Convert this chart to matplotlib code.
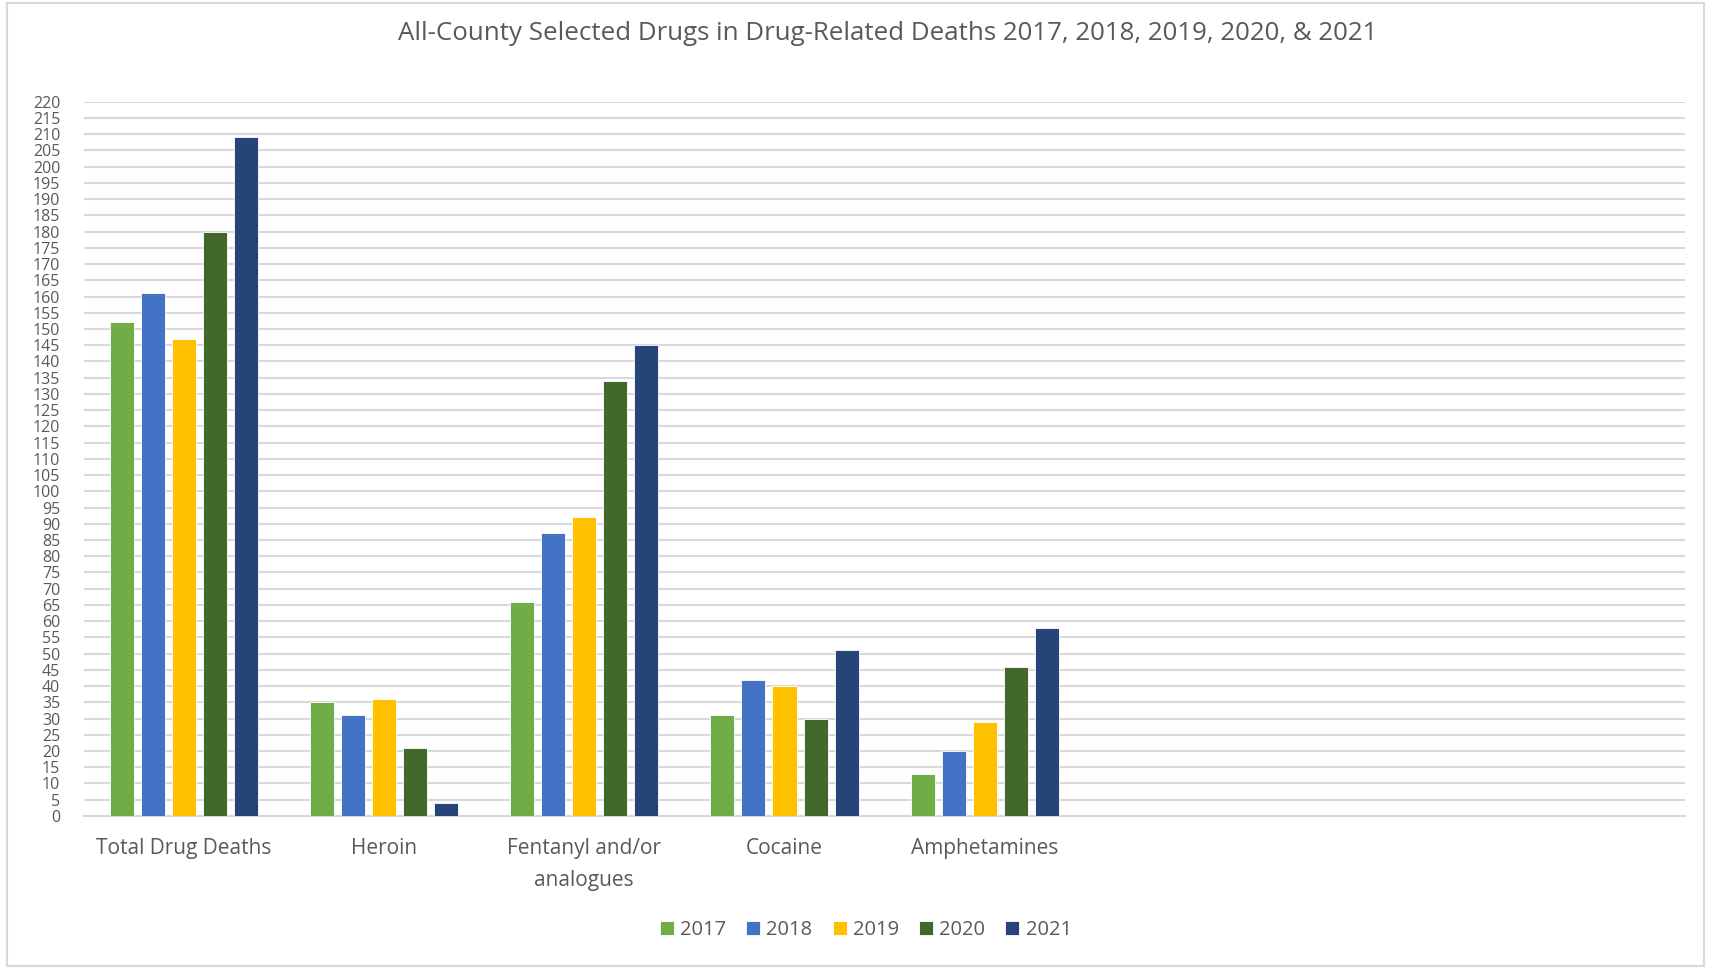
import matplotlib.pyplot as plt
import numpy as np
from matplotlib.patches import Rectangle

categorias = ["Total Drug Deaths", "Heroin", "Fentanyl and/or\nanalogues", "Cocaine", "Amphetamines", "", "", ""]
anios = ["2017", "2018", "2019", "2020", "2021"]
v2017 = [152, 35, 66, 31, 13]
v2018 = [161, 31, 87, 42, 20]
v2019 = [147, 36, 92, 40, 29]
v2020 = [180, 21, 134, 30, 46]
v2021 = [209, 4, 145, 51, 58]
colores = ['#70AD47', '#4472C4', '#FFC000', '#43682B', '#264478']

plt.rcParams['font.family'] = ['Open Sans', 'DejaVu Sans']
gris = '#595959'

fig = plt.figure(figsize=(17.11, 9.69), dpi=100)
ax = fig.add_axes([0.049, 0.158, 0.936, 0.737])

series = [v2017, v2018, v2019, v2020, v2021]
x = np.arange(len(categorias))
ancho = 0.12
paso = 0.155
for i, (vals, col, lab) in enumerate(zip(series, colores, anios)):
    pos = x[:len(vals)] + (i - 2) * paso
    ax.bar(pos, vals, ancho, color=col, label=lab, edgecolor='white', linewidth=0.6, zorder=3)

ax.set_xlim(-0.5, len(categorias) - 0.5)
ax.set_ylim(0, 220)
ax.set_yticks(np.arange(0, 221, 5))
ax.set_xticks(x)
ax.set_xticklabels(categorias, fontsize=15, color=gris, linespacing=1.65, va='top')
# etiquetas del eje y muy juntas (paso de 5)
ax.tick_params(axis='y', labelsize=11.5, labelcolor=gris, length=0, pad=17)
ax.tick_params(axis='x', length=0, pad=16)

ax.grid(axis='y', color='#D9D9D9', linewidth=1.5, zorder=0)
for s in ['top', 'right', 'left']:
    ax.spines[s].set_visible(False)
ax.spines['bottom'].set_color('#D9D9D9')
ax.spines['bottom'].set_linewidth(1.5)

fig.text(0.519, 0.965, "All-County Selected Drugs in Drug-Related Deaths 2017, 2018, 2019, 2020, & 2021",
         ha='center', va='center', fontsize=18.6, color=gris)

fig.legend(loc='center', bbox_to_anchor=(0.506, 0.04), ncol=5, frameon=False,
           fontsize=14.5, labelcolor=gris, handlelength=0.7, handleheight=0.7,
           handletextpad=0.3, columnspacing=1.0)

fig.patches.append(Rectangle((0.004, 0.003), 0.992, 0.994, transform=fig.transFigure,
                             fill=False, edgecolor='#D9D9D9', linewidth=1.5))

fig.savefig('out.png', dpi=100)
